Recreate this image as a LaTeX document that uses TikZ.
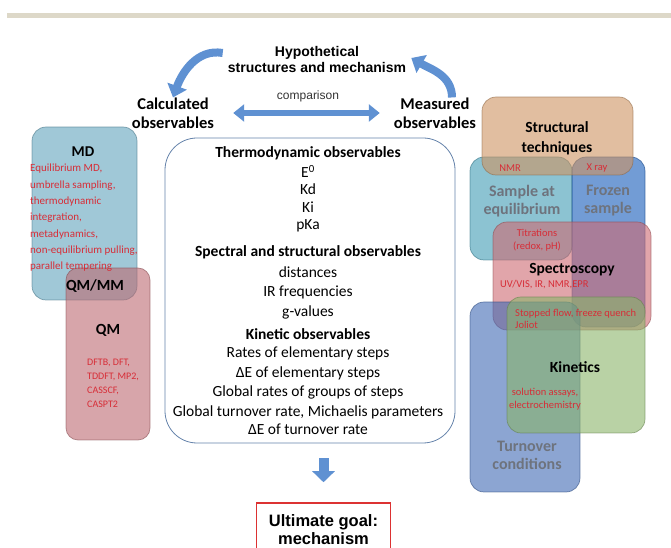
\documentclass[tikz,border=0pt]{standalone}
\usepackage{fontspec}
\setmainfont{Carlito}
\newfontfamily\arialfont{Liberation Sans}
\usepackage{tikz}
\usetikzlibrary{positioning}
\usetikzlibrary{arrows.meta}

\definecolor{barcol}{RGB}{221,216,200}
\definecolor{arrowblue}{RGB}{95,145,210}
\definecolor{redtext}{RGB}{215,45,55}
\definecolor{goalred}{RGB}{220,50,50}
\definecolor{graytext}{RGB}{110,115,125}
\definecolor{boxline}{RGB}{100,130,170}
\definecolor{mdcol}{RGB}{97,163,188}
\definecolor{qmcol}{RGB}{188,105,113}
\definecolor{structcol}{RGB}{205,147,97}
\definecolor{samplecol}{RGB}{63,155,180}
\definecolor{frozencol}{RGB}{20,90,185}
\definecolor{spectrocol}{RGB}{205,105,113}
\definecolor{turncol}{RGB}{63,105,180}
\definecolor{kincol}{RGB}{138,180,105}

\begin{document}
\begin{tikzpicture}[x=1pt, y=1pt,
  area/.style={rounded corners=14pt, fill opacity=0.6, draw opacity=0.6, line width=0.7pt},
  title/.style={inner sep=0pt, font=\fontsize{15.5}{20}\selectfont\bfseries, align=center},
  grayname/.style={inner sep=0pt, text=graytext, font=\fontsize{16}{18}\selectfont\bfseries, align=center},
  item/.style={inner sep=0pt, anchor=base, font=\fontsize{15.5}{19}\selectfont},
  itemhead/.style={item, font=\fontsize{15.5}{19}\selectfont\bfseries},
  redsmall/.style={inner sep=0pt, text=redtext, font=\fontsize{10.5}{13}\selectfont},
  bigcurve/.style={arrowblue, line width=8pt, -{Triangle[length=12pt, width=20pt]}}
]
  \useasboundingbox (0,0) rectangle (671,548);
  \fill[barcol] (7,530) rectangle (671,535);

  % top of the cycle
  \node[inner sep=0pt, align=center, font=\fontsize{14}{16}\selectfont\arialfont\bfseries] at (317,488) (hyp) {Hypothetical\\structures and mechanism};
  \node[inner sep=0pt, align=center, font=\fontsize{16.5}{19}\selectfont\bfseries] at (173,435) (calc) {Calculated\\observables};
  \node[inner sep=0pt, align=center, font=\fontsize{16.5}{19}\selectfont\bfseries] at (435,435) (meas) {Measured\\observables};

  \draw[bigcurve] ([shift={(-5,7)}]hyp.west) to[out=170, in=70] (calc.north);
  \draw[bigcurve] ([xshift=17pt]meas.north) to[out=90, in=-30] ([shift={(5,2)}]hyp.east);
  \draw[arrowblue, line width=6pt, {Triangle[length=11pt, width=17pt]}-{Triangle[length=11pt, width=17pt]}, shorten <=19pt, shorten >=14pt]
    (calc) -- (meas) node[midway, above=8pt, xshift=4pt, inner sep=0pt, text=black!80, font=\fontsize{12}{14}\selectfont\arialfont] (cmp) {comparison};

  % computation side
  \draw[area, fill=mdcol, draw=mdcol!70!black] (32,421) rectangle (137,248);
  \draw[area, rounded corners=12pt, fill=qmcol, draw=qmcol!70!black] (66,280) rectangle (150,108);
  \node[title, font=\fontsize{15}{18}\selectfont\bfseries] at (83,396) (md) {MD};
  \node[redsmall, align=left, anchor=west, font=\fontsize{11}{16.3}\selectfont] at (30,330) (md-list)
    {Equilibrium MD,\\umbrella sampling,\\thermodynamic\\integration,\\metadynamics,\\non-equilibrium pulling,\\parallel tempering};
  \node[title] at (95,262) (qmmm) {QM/MM};
  \node[title] at (108,218) (qm) {QM};
  \node[redsmall, align=left, anchor=west, font=\fontsize{10}{14}\selectfont] at (87,165) (qm-list)
    {DFTB, DFT,\\TDDFT, MP2,\\CASSCF,\\CASPT2};

  % observables
  \node[draw=boxline, line width=0.8pt, rounded corners=32pt, minimum width=290pt, minimum height=305pt, inner sep=0pt] at (310,257.5) (obs) {};
  \node[itemhead] at (308,390) (thermo) {Thermodynamic observables};
  \node[item] at (308,370) (ezero) {E\textsuperscript{0}};
  \node[item] at (308,353) (kd) {Kd};
  \node[item] at (308,335) (ki) {Ki};
  \node[item] at (308,318) (pka) {pKa};
  \node[itemhead] at (308,291) (spectral) {Spectral and structural observables};
  \node[item] at (308,270) (dist) {distances};
  \node[item] at (308,251) (irfreq) {IR frequencies};
  \node[item] at (308,231) (gval) {g-values};
  \node[itemhead] at (308,208) (kinetic) {Kinetic observables};
  \node[item] at (308,190) (rates) {Rates of elementary steps};
  \node[item] at (308,170) (delta-e) {ΔE of elementary steps};
  \node[item] at (308,151) (global) {Global rates of groups of steps};
  \node[item] at (308,131) (turnover) {Global turnover rate, Michaelis parameters};
  \node[item] at (308,113) (delta-turn) {ΔE of turnover rate};

  % experiment side
  \draw[area, fill=samplecol, draw=samplecol!70!black] (470,391) rectangle (572,288);
  \draw[area, fill=frozencol, draw=frozencol!70!black] (572,391) rectangle (645,221);
  \draw[area, fill=structcol, draw=structcol!70!black] (482,451) rectangle (633,373);
  \draw[area, fill=spectrocol, draw=spectrocol!70!black] (493,326) rectangle (651,218);
  \draw[area, fill=turncol, draw=turncol!70!black] (470,246) rectangle (580,56);
  \draw[area, fill=kincol, draw=kincol!70!black] (507,251) rectangle (645,115);

  \node[title] at (557,410) (struct) {Structural\\techniques};
  \node[redsmall] at (510,380) (nmr) {NMR};
  \node[redsmall] at (597,380) (xray) {X ray};
  \node[grayname] at (522,347) (sample) {Sample at\\equilibrium};
  \node[grayname] at (608,347) (frozen) {Frozen\\sample};
  \node[redsmall, align=center] at (537,308) (titr) {Titrations\\(redox, pH)};
  \node[title] at (572,278) (spectro) {Spectroscopy};
  \node[redsmall, anchor=west] at (500,263) (uvvis) {UV/VIS, IR, NMR,EPR};
  \node[redsmall, align=left, anchor=west, font=\fontsize{10.5}{12}\selectfont] at (515,229) (stopped) {Stopped flow, freeze quench\\Joliot};
  \node[title] at (575,181) (kin) {Kinetics};
  \node[redsmall, align=center] at (545,149) (assays) {solution assays,\\electrochemistry};
  \node[grayname] at (527,93) (turn) {Turnover\\conditions};

  % goal
  \node[draw=goalred, line width=1.5pt, minimum width=134pt, minimum height=54pt, inner sep=0pt, align=center,
    font=\fontsize{16.5}{18}\selectfont\arialfont\bfseries] at (323.5,18) (goal) {Ultimate goal:\\mechanism};
  \draw[arrowblue, line width=10pt, -{Triangle[length=11pt, width=22pt]}, shorten <=15pt, shorten >=20pt]
    (goal.north |- obs.south) -- (goal.north);
\end{tikzpicture}
\end{document}
